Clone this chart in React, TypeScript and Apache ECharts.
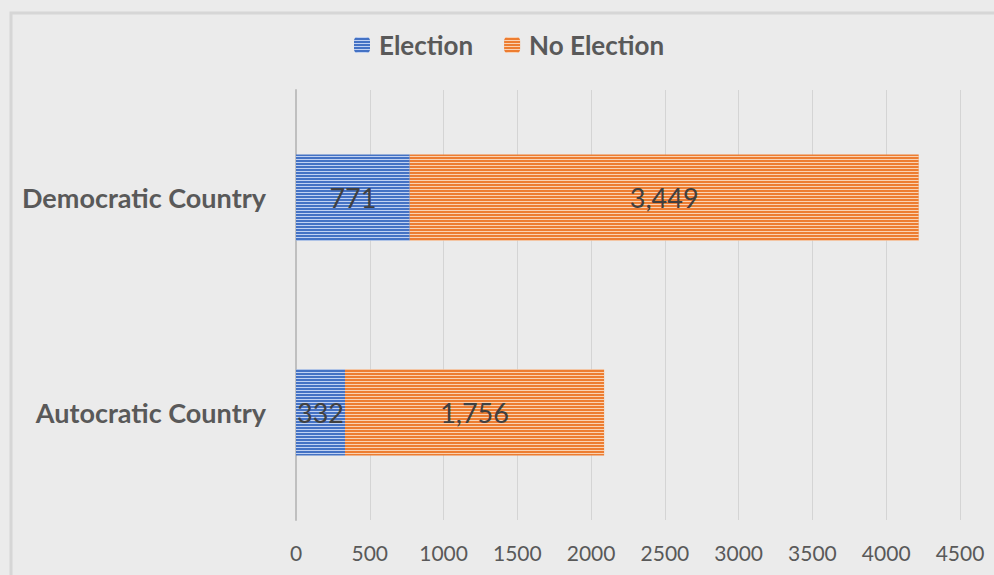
import React, { useEffect, useRef } from "react";
import * as echarts from "echarts";

const categories = ["Autocratic Country", "Democratic Country"];
const electionValues = [332, 771];
const noElectionValues = [1756, 3449];
const seriesNames = ["Election", "No Election"];
const xTicks = [0, 500, 1000, 1500, 2000, 2500, 3000, 3500, 4000, 4500];

const FONT = "Lato, 'Open Sans', sans-serif";

export default function App() {
  const ref = useRef<HTMLDivElement>(null);
  useEffect(() => {
    document.body.style.margin = "0";
    const chart = echarts.init(ref.current!, null, { renderer: "svg" });
    const stripe = (c: string) => ({
      symbol: "rect",
      symbolSize: 1,
      color: c,
      dashArrayX: [1, 0],
      dashArrayY: [1, 2],
      rotation: 0,
    });
    const labelFmt = (p: any) => Number(p.value).toLocaleString("en-US");
    chart.setOption({
      animation: false,
      backgroundColor: "#ebebeb",
      textStyle: { fontFamily: FONT },
      graphic: [
        {
          type: "rect",
          shape: { x: 11, y: 13, width: 1100, height: 700 },
          style: { fill: "none", stroke: "#d6d6d6", lineWidth: 3 },
          silent: true,
        },
      ],
      legend: {
        top: 27,
        left: 349,
        itemWidth: 16,
        itemHeight: 16,
        itemGap: 31,
        data: seriesNames,
        textStyle: { fontSize: 26, fontWeight: "bold", color: "#595959", fontFamily: FONT, padding: [0, 0, 0, 4] },
      },
      grid: { left: 296, right: 34, top: 90, bottom: 55 },
      xAxis: {
        type: "value",
        min: 0,
        max: 4500,
        interval: 500,
        axisLine: { show: false },
        axisTick: { show: false },
        splitLine: { show: true, lineStyle: { color: "#d4d4d4", width: 1 } },
        axisLabel: {
          fontSize: 21,
          color: "#595959",
          margin: 22,
          fontFamily: FONT,
          formatter: (v: number) => (xTicks.includes(v) ? String(v) : ""),
        },
      },
      yAxis: {
        type: "category",
        data: categories,
        axisLine: { show: true, lineStyle: { color: "#bfbfbf", width: 2 } },
        axisTick: { show: false },
        axisLabel: { fontSize: 27, fontWeight: "bold", color: "#595959", margin: 30, fontFamily: FONT },
      },
      series: [
        {
          name: seriesNames[0],
          type: "bar",
          stack: "total",
          barCategoryGap: "60%",
          data: electionValues,
          itemStyle: { color: "#4472c4", decal: stripe("rgba(205,220,248,0.9)") },
          label: { show: true, position: "inside", fontSize: 27, color: "#404040", formatter: labelFmt, fontFamily: FONT },
        },
        {
          name: seriesNames[1],
          type: "bar",
          stack: "total",
          barCategoryGap: "60%",
          data: noElectionValues,
          itemStyle: { color: "#ed7d31", decal: stripe("rgba(252,220,192,0.9)") },
          label: { show: true, position: "inside", fontSize: 27, color: "#404040", formatter: labelFmt, fontFamily: FONT },
        },
      ],
    });
    return () => chart.dispose();
  }, []);
  return <div ref={ref} style={{ width: 994, height: 575 }} />;
}
